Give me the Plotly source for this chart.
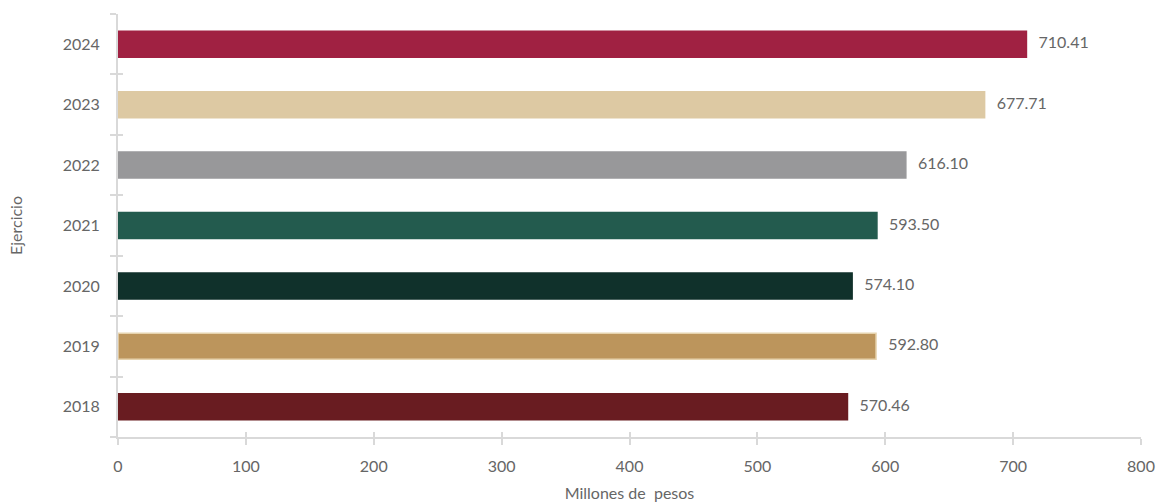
import plotly.graph_objects as go

years = ["2018", "2019", "2020", "2021", "2022", "2023", "2024"]
values = [570.46, 592.80, 574.10, 593.50, 616.10, 677.71, 710.41]
colors = ["#691C21", "#BC955C", "#10312B", "#235B4E", "#98989A", "#DDC9A3", "#A02142"]
line_colors = ["#691C21", "#E6D3AE", "#10312B", "#235B4E", "#98989A", "#DDC9A3", "#A02142"]
x_ticks = [0, 100, 200, 300, 400, 500, 600, 700, 800]

font_family = "Lato, 'Open Sans', sans-serif"
gray = "#666666"
axis_gray = "#D9D9D9"

fig = go.Figure()
fig.add_trace(go.Bar(
    x=values, y=years, orientation="h",
    marker=dict(color=colors, line=dict(color=line_colors, width=1.5)),
    width=0.43, showlegend=False, hoverinfo="skip",
))
fig.add_trace(go.Scatter(
    x=values, y=years, mode="text",
    text=["\u2002\u00a0" + f"{v:.2f}" for v in values],
    textposition="middle right",
    textfont=dict(family=font_family, size=16, color=gray),
    showlegend=False, hoverinfo="skip", cliponaxis=False,
))

fig.update_layout(
    width=1156, height=502,
    margin=dict(l=118, r=15, t=14, b=65),
    plot_bgcolor="white", paper_bgcolor="white",
    font=dict(family=font_family, size=16, color=gray),
    xaxis=dict(range=[0, 800], tickvals=x_ticks, showgrid=False, zeroline=False,
               showline=True, linecolor=axis_gray, linewidth=2, automargin=False,
               ticks="outside", ticklen=6, tickwidth=2, tickcolor=axis_gray,
               ticklabelstandoff=8,
               title=dict(text="Millones de  pesos", font=dict(size=16, color=gray), standoff=18),
               tickfont=dict(size=16, color=gray)),
    xaxis2=dict(range=[0, 800], tickvals=x_ticks, overlaying="x", side="bottom",
                showticklabels=False, showgrid=False, zeroline=False, showline=False,
                automargin=False,
                ticks="inside", ticklen=5, tickwidth=2, tickcolor=axis_gray),
    yaxis=dict(type="category", categoryorder="array", categoryarray=years,
               showgrid=False, zeroline=False, showline=True, linecolor=axis_gray, linewidth=2,
               ticks="outside", ticklen=6, tickwidth=2, tickcolor=axis_gray,
               tickson="boundaries", range=[-0.5, 6.5], automargin=False,
               ticklabelstandoff=13,
               title=dict(text="Ejercicio", font=dict(size=16, color=gray), standoff=36),
               tickfont=dict(size=16, color=gray)),
    yaxis2=dict(range=[-0.5, 6.5], overlaying="y", side="left",
                tickvals=[-0.5, 0.5, 1.5, 2.5, 3.5, 4.5, 5.5, 6.5],
                showticklabels=False, showgrid=False, zeroline=False, showline=False,
                automargin=False,
                ticks="inside", ticklen=5, tickwidth=2, tickcolor=axis_gray),
)
fig.add_trace(go.Scatter(x=[None], y=[None], xaxis="x2", yaxis="y2", showlegend=False, hoverinfo="skip"))

fig.write_html("out.html", config={"displayModeBar": False},
               post_script="document.body.style.margin='0';")
